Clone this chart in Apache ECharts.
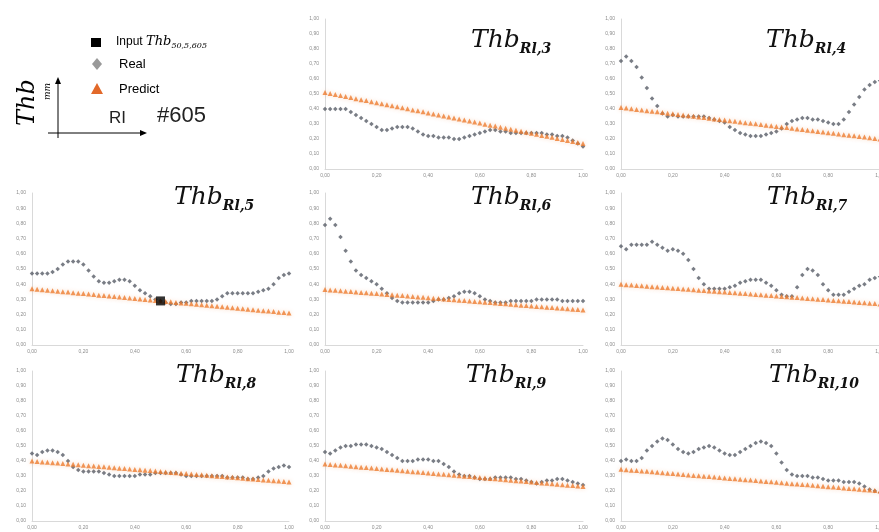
<!DOCTYPE html>
<html><head><meta charset="utf-8">
<script src="https://cdn.jsdelivr.net/npm/echarts@6/dist/echarts.min.js"></script>
<style>html,body{margin:0;padding:0;background:#fff}#c{width:879px;height:532px}</style>
</head><body><div id="c"></div>
<script>
// ---------- data ----------
const xs = [0.00,0.02,0.04,0.06,0.08,0.10,0.12,0.14,0.16,0.18,0.20,0.22,0.24,0.26,0.28,0.30,0.32,0.34,0.36,0.38,0.40,0.42,0.44,0.46,0.48,0.50,0.52,0.54,0.56,0.58,0.60,0.62,0.64,0.66,0.68,0.70,0.72,0.74,0.76,0.78,0.80,0.82,0.84,0.86,0.88,0.90,0.92,0.94,0.96,0.98,1.00];

const panelNames = ['Rl,3','Rl,4','Rl,5','Rl,6','Rl,7','Rl,8','Rl,9','Rl,10'];

const real3 = [0.40,0.40,0.40,0.40,0.40,0.38,0.36,0.34,0.32,0.30,0.28,0.26,0.26,0.27,0.28,0.28,0.28,0.27,0.25,0.23,0.22,0.22,0.21,0.21,0.21,0.20,0.20,0.21,0.22,0.23,0.24,0.25,0.26,0.26,0.25,0.25,0.24,0.24,0.24,0.24,0.24,0.24,0.24,0.23,0.23,0.22,0.22,0.21,0.19,0.17,0.15];
const pred3 = [0.510,0.503,0.496,0.490,0.483,0.476,0.469,0.462,0.456,0.449,0.442,0.435,0.428,0.422,0.415,0.408,0.401,0.394,0.388,0.381,0.374,0.367,0.360,0.354,0.347,0.340,0.333,0.326,0.320,0.313,0.306,0.299,0.292,0.286,0.279,0.272,0.265,0.258,0.252,0.245,0.238,0.231,0.224,0.218,0.211,0.204,0.197,0.190,0.184,0.177,0.170];

const real4 = [0.72,0.75,0.72,0.68,0.61,0.54,0.47,0.42,0.37,0.35,0.36,0.35,0.35,0.35,0.35,0.35,0.35,0.34,0.33,0.32,0.31,0.28,0.26,0.24,0.23,0.22,0.22,0.22,0.23,0.24,0.25,0.27,0.30,0.32,0.33,0.34,0.34,0.33,0.33,0.32,0.31,0.30,0.30,0.33,0.38,0.43,0.48,0.53,0.56,0.58,0.59];
const pred4 = [0.410,0.406,0.402,0.397,0.393,0.389,0.385,0.381,0.376,0.372,0.368,0.364,0.360,0.355,0.351,0.347,0.343,0.339,0.334,0.330,0.326,0.322,0.318,0.313,0.309,0.305,0.301,0.297,0.292,0.288,0.284,0.280,0.276,0.271,0.267,0.263,0.259,0.255,0.250,0.246,0.242,0.238,0.234,0.229,0.225,0.221,0.217,0.213,0.208,0.204,0.200];

const real5 = [0.47,0.47,0.47,0.47,0.48,0.50,0.53,0.55,0.55,0.55,0.53,0.49,0.45,0.42,0.41,0.41,0.42,0.43,0.43,0.42,0.39,0.36,0.34,0.32,0.30,0.29,0.28,0.27,0.27,0.28,0.28,0.29,0.29,0.29,0.29,0.29,0.30,0.32,0.34,0.34,0.34,0.34,0.34,0.34,0.35,0.36,0.37,0.40,0.44,0.46,0.47];
const pred5 = [0.370,0.367,0.364,0.360,0.357,0.354,0.351,0.348,0.344,0.341,0.338,0.335,0.332,0.328,0.325,0.322,0.319,0.316,0.312,0.309,0.306,0.303,0.300,0.296,0.293,0.290,0.287,0.284,0.280,0.277,0.274,0.271,0.268,0.264,0.261,0.258,0.255,0.252,0.248,0.245,0.242,0.239,0.236,0.232,0.229,0.226,0.223,0.220,0.216,0.213,0.210];

const real6 = [0.79,0.83,0.79,0.71,0.62,0.55,0.49,0.46,0.44,0.42,0.40,0.37,0.34,0.31,0.29,0.28,0.28,0.28,0.28,0.28,0.28,0.29,0.30,0.30,0.31,0.32,0.34,0.35,0.35,0.34,0.32,0.30,0.29,0.28,0.28,0.28,0.29,0.29,0.29,0.29,0.29,0.30,0.30,0.30,0.30,0.30,0.29,0.29,0.29,0.29,0.29];
const pred6 = [0.365,0.362,0.360,0.357,0.354,0.352,0.349,0.346,0.343,0.341,0.338,0.335,0.333,0.330,0.327,0.325,0.322,0.319,0.316,0.314,0.311,0.308,0.306,0.303,0.300,0.298,0.295,0.292,0.289,0.287,0.284,0.281,0.279,0.276,0.273,0.271,0.268,0.265,0.262,0.260,0.257,0.254,0.252,0.249,0.246,0.244,0.241,0.238,0.235,0.233,0.230];

const real7 = [0.65,0.63,0.66,0.66,0.66,0.66,0.68,0.66,0.64,0.62,0.63,0.62,0.60,0.56,0.50,0.44,0.40,0.37,0.37,0.37,0.37,0.38,0.39,0.41,0.42,0.43,0.43,0.43,0.41,0.39,0.36,0.33,0.32,0.32,0.38,0.46,0.50,0.49,0.46,0.40,0.36,0.33,0.33,0.33,0.35,0.37,0.39,0.40,0.43,0.44,0.45];
const pred7 = [0.400,0.397,0.395,0.392,0.390,0.387,0.384,0.382,0.379,0.377,0.374,0.371,0.369,0.366,0.364,0.361,0.358,0.356,0.353,0.351,0.348,0.345,0.343,0.340,0.338,0.335,0.332,0.330,0.327,0.325,0.322,0.319,0.317,0.314,0.312,0.309,0.306,0.304,0.301,0.299,0.296,0.293,0.291,0.288,0.286,0.283,0.280,0.278,0.275,0.273,0.270];

const real8 = [0.45,0.44,0.46,0.47,0.47,0.46,0.44,0.40,0.36,0.34,0.33,0.33,0.33,0.33,0.32,0.31,0.30,0.30,0.30,0.30,0.30,0.31,0.31,0.31,0.32,0.32,0.32,0.32,0.32,0.31,0.30,0.30,0.30,0.30,0.30,0.30,0.30,0.30,0.29,0.29,0.29,0.29,0.28,0.28,0.29,0.30,0.33,0.35,0.36,0.37,0.36];
const pred8 = [0.400,0.397,0.394,0.392,0.389,0.386,0.383,0.380,0.378,0.375,0.372,0.369,0.366,0.364,0.361,0.358,0.355,0.352,0.350,0.347,0.344,0.341,0.338,0.336,0.333,0.330,0.327,0.324,0.322,0.319,0.316,0.313,0.310,0.308,0.305,0.302,0.299,0.296,0.294,0.291,0.288,0.285,0.282,0.280,0.277,0.274,0.271,0.268,0.266,0.263,0.260];

const real9 = [0.46,0.45,0.47,0.49,0.50,0.50,0.51,0.51,0.51,0.50,0.49,0.48,0.46,0.44,0.42,0.40,0.40,0.40,0.41,0.41,0.41,0.40,0.40,0.38,0.36,0.33,0.31,0.30,0.30,0.29,0.28,0.28,0.28,0.29,0.29,0.29,0.29,0.28,0.28,0.27,0.26,0.25,0.26,0.27,0.27,0.28,0.28,0.27,0.26,0.25,0.24];
const pred9 = [0.380,0.377,0.374,0.371,0.368,0.365,0.362,0.359,0.356,0.353,0.350,0.347,0.344,0.341,0.338,0.335,0.332,0.329,0.326,0.323,0.320,0.317,0.314,0.311,0.308,0.305,0.302,0.299,0.296,0.293,0.290,0.287,0.284,0.281,0.278,0.275,0.272,0.269,0.266,0.263,0.260,0.257,0.254,0.251,0.248,0.245,0.242,0.239,0.236,0.233,0.230];

const real10 = [0.40,0.41,0.40,0.40,0.42,0.47,0.50,0.53,0.55,0.54,0.51,0.48,0.46,0.45,0.46,0.48,0.49,0.50,0.49,0.47,0.45,0.44,0.44,0.46,0.48,0.50,0.52,0.53,0.52,0.50,0.45,0.39,0.34,0.31,0.30,0.30,0.30,0.29,0.29,0.28,0.27,0.27,0.27,0.26,0.26,0.26,0.25,0.23,0.21,0.20,0.19];
const pred10 = [0.345,0.342,0.339,0.336,0.333,0.331,0.328,0.325,0.322,0.319,0.316,0.313,0.310,0.307,0.304,0.302,0.299,0.296,0.293,0.290,0.287,0.284,0.281,0.278,0.275,0.273,0.270,0.267,0.264,0.261,0.258,0.255,0.252,0.249,0.246,0.244,0.241,0.238,0.235,0.232,0.229,0.226,0.223,0.220,0.217,0.215,0.212,0.209,0.206,0.203,0.200];

const inputX = [0.50];
const inputY = [0.29];
const inputPanel = 2;

const realSets = [real3, real4, real5, real6, real7, real8, real9, real10];
const predSets = [pred3, pred4, pred5, pred6, pred7, pred8, pred9, pred10];

// ---------- layout ----------
const cols = [{left: 32, width: 257}, {left: 325, width: 258}, {left: 621, width: 259}];
const rows = [{top: 19, height: 150}, {top: 193, height: 152}, {top: 371, height: 150}];
const cells = [[0,1],[0,2],[1,0],[1,1],[1,2],[2,0],[2,1],[2,2]];
const titlePos = [[471,28],[766,28],[174,185],[471,185],[767,185],[176,363],[466,363],[769,363]];

const REAL_COLOR = '#575d66';
const PRED_COLOR = '#ED7D31';
const fmt = v => v.toFixed(2).replace('.', ',');
const zip = (a, b) => a.map((v, i) => [v, b[i]]);

const grid = [], xAxis = [], yAxis = [], series = [], graphic = [];
cells.forEach((c, i) => {
  const r = rows[c[0]], col = cols[c[1]];
  grid.push({left: col.left, width: col.width, top: r.top, height: r.height, outerBoundsMode: 'none', containLabel: false});
  xAxis.push({gridIndex: i, type: 'value', min: 0, max: 1, interval: 0.2,
    axisLine: {show: true, lineStyle: {color: '#d9d9d9', width: 1}}, axisTick: {show: false},
    splitLine: {show: false},
    axisLabel: {fontSize: 5, color: '#8c8c8c', margin: 4, formatter: fmt, fontFamily: 'Liberation Sans'}});
  yAxis.push({gridIndex: i, type: 'value', min: 0, max: 1, interval: 0.1,
    axisLine: {show: true, lineStyle: {color: '#d9d9d9', width: 1}}, axisTick: {show: false},
    splitLine: {show: false},
    axisLabel: {fontSize: 5, color: '#8c8c8c', margin: 6, formatter: fmt, fontFamily: 'Liberation Sans'}});
  series.push({type: 'scatter', name: 'Real', xAxisIndex: i, yAxisIndex: i, symbol: 'diamond', symbolSize: 4.5,
    itemStyle: {color: REAL_COLOR}, data: zip(xs, realSets[i]), z: 2, silent: true});
  series.push({type: 'scatter', name: 'Predict', xAxisIndex: i, yAxisIndex: i, symbol: 'triangle', symbolSize: 5,
    itemStyle: {color: PRED_COLOR, shadowBlur: 4, shadowColor: 'rgba(237,125,49,0.35)'}, data: zip(xs, predSets[i]), z: 3, silent: true});
  if (i === inputPanel) {
    series.push({type: 'scatter', name: 'Input', xAxisIndex: i, yAxisIndex: i, symbol: 'rect', symbolSize: 9,
      itemStyle: {color: '#000'}, data: zip(inputX, inputY), z: 4, silent: true});
  }
  graphic.push({type: 'text', left: titlePos[i][0], top: titlePos[i][1], z: 10,
    style: {text: '{a|Thb}{b|' + panelNames[i] + '}', rich: {
      a: {fontFamily: 'DejaVu Serif', fontStyle: 'italic', fontSize: 25, fill: '#111', verticalAlign: 'bottom', padding: [0,0,3,0]},
      b: {fontFamily: 'DejaVu Serif', fontStyle: 'italic', fontWeight: 'bold', fontSize: 14, fill: '#111', verticalAlign: 'bottom'}
    }}});
});

// legend / axis sketch in the top-left cell
graphic.push(
  {type: 'rect', shape: {x: 91, y: 38, width: 10, height: 9}, style: {fill: '#000'}},
  {type: 'text', left: 116, top: 35, style: {text: '{n|Input }{a|Thb}{b|50,5,605}', rich: {
    n: {fontFamily: 'Liberation Sans', fontSize: 12, fill: '#000', verticalAlign: 'bottom', padding: [0,0,2,0]},
    a: {fontFamily: 'DejaVu Serif', fontStyle: 'italic', fontSize: 13, fill: '#000', verticalAlign: 'bottom', padding: [0,0,2,0]},
    b: {fontFamily: 'DejaVu Serif', fontStyle: 'italic', fontSize: 8, fill: '#000', verticalAlign: 'bottom'}
  }}},
  {type: 'polygon', shape: {points: [[97,58],[102,64],[97,70],[92,64]]}, style: {fill: '#999999'}},
  {type: 'text', left: 119, top: 58, style: {text: 'Real', fontFamily: 'Liberation Sans', fontSize: 13, fill: '#000'}},
  {type: 'polygon', shape: {points: [[97,83],[103,94],[91,94]]}, style: {fill: '#E2692A'}},
  {type: 'text', left: 119, top: 83, style: {text: 'Predict', fontFamily: 'Liberation Sans', fontSize: 13, fill: '#000'}},
  // axis sketch
  {type: 'line', shape: {x1: 58, y1: 138, x2: 58, y2: 82}, style: {stroke: '#000', lineWidth: 1}},
  {type: 'polygon', shape: {points: [[58,77],[61,84],[55,84]]}, style: {fill: '#000'}},
  {type: 'line', shape: {x1: 48, y1: 133, x2: 142, y2: 133}, style: {stroke: '#000', lineWidth: 1}},
  {type: 'polygon', shape: {points: [[147,133],[140,130],[140,136]]}, style: {fill: '#000'}},
  {type: 'text', x: 40, y: 126, rotation: Math.PI / 2, style: {text: 'Thb', fontFamily: 'DejaVu Serif', fontStyle: 'italic', fontSize: 24, fill: '#000', verticalAlign: 'bottom'}},
  {type: 'text', x: 52, y: 100, rotation: Math.PI / 2, style: {text: 'mm', fontFamily: 'DejaVu Serif', fontStyle: 'italic', fontSize: 9, fill: '#000', verticalAlign: 'bottom'}},
  {type: 'text', left: 109, top: 110, style: {text: 'RI', fontFamily: 'Liberation Sans', fontSize: 17, fill: '#222'}},
  {type: 'text', left: 157, top: 105, style: {text: '#605', fontFamily: 'Liberation Sans', fontSize: 22, fill: '#222'}}
);

const chart = echarts.init(document.getElementById('c'), null, {renderer: 'canvas'});
chart.setOption({animation: false, backgroundColor: '#fff', grid, xAxis, yAxis, series, graphic});
</script></body></html>
